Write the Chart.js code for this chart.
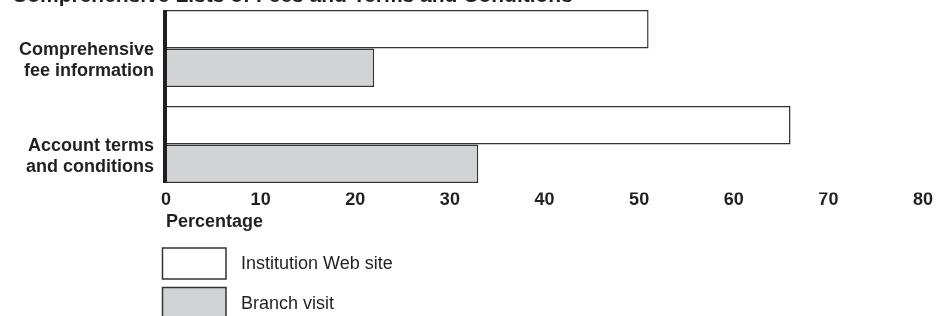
<!DOCTYPE html>
<html><head><meta charset="utf-8">
<script src="https://cdn.jsdelivr.net/npm/chart.js@4/dist/chart.umd.min.js"></script>
<style>html,body{margin:0;padding:0;background:#fff;overflow:hidden}canvas{display:block}</style>
</head><body>
<div style="width:948px;height:316px;position:relative"><canvas id="c"></canvas></div>
<script>
const titleText = "Comprehensive Lists of Fees and Terms and Conditions";
const categories = [["Comprehensive", "fee information"], ["Account terms", "and conditions"]];
const seriesNames = ["Institution Web site", "Branch visit"];
const webSite = [51, 66];
const branchVisit = [22, 33];
const xTicks = [0, 10, 20, 30, 40, 50, 60, 70, 80];
const xAxisLabel = "Percentage";

const FONT = '"Liberation Sans", Arial, Helvetica, sans-serif';
const INK = '#231f20';
Chart.defaults.font.family = FONT;
Chart.defaults.color = INK;

const titlePlugin = {
  id: 'topTitle',
  afterDraw(chart) {
    const ctx = chart.ctx;
    ctx.save();
    ctx.font = 'bold 21px ' + FONT;
    ctx.fillStyle = INK;
    ctx.textAlign = 'left';
    ctx.textBaseline = 'alphabetic';
    ctx.fillText(titleText, 12, 2);
    ctx.restore();
  }
};

const axisLinePlugin = {
  id: 'axisLine',
  afterDatasetsDraw(chart) {
    const first = chart.getDatasetMeta(0).data[0];
    const lastMeta = chart.getDatasetMeta(chart.data.datasets.length - 1);
    const last = lastMeta.data[lastMeta.data.length - 1];
    const top = first.y - first.height / 2;
    const bottom = last.y + last.height / 2;
    const x = chart.scales.x.getPixelForValue(0) - 1;
    const ctx = chart.ctx;
    ctx.save();
    ctx.strokeStyle = INK;
    ctx.lineWidth = 4;
    ctx.beginPath();
    ctx.moveTo(x, top);
    ctx.lineTo(x, bottom);
    ctx.stroke();
    ctx.restore();
  }
};

const legendPlugin = {
  id: 'boxLegend',
  afterDraw(chart) {
    const ctx = chart.ctx;
    ctx.save();
    chart.data.datasets.forEach((ds, i) => {
      const bx = 162.5, by = 248 + i * 39.5, bw = 63.5, bh = 31;
      ctx.fillStyle = ds.backgroundColor;
      ctx.fillRect(bx, by, bw, bh);
      ctx.strokeStyle = ds.borderColor;
      ctx.lineWidth = 1.5;
      ctx.strokeRect(bx, by, bw, bh);
      ctx.fillStyle = INK;
      ctx.font = '18px ' + FONT;
      ctx.textAlign = 'left';
      ctx.textBaseline = 'middle';
      ctx.fillText(ds.label, 241, by + bh / 2 + 1);
    });
    ctx.restore();
  }
};

new Chart(document.getElementById('c'), {
  type: 'bar',
  data: {
    labels: categories,
    datasets: [
      { label: seriesNames[0], data: webSite, backgroundColor: '#ffffff', borderColor: '#333333', borderWidth: 1.5 },
      { label: seriesNames[1], data: branchVisit, backgroundColor: '#d1d3d4', borderColor: '#333333', borderWidth: 1.5 }
    ]
  },
  options: {
    indexAxis: 'y',
    responsive: true,
    maintainAspectRatio: false,
    animation: false,
    layout: { padding: { top: 0.5, bottom: 78.5, left: 0, right: 25 } },
    datasets: { bar: { categoryPercentage: 0.802, barPercentage: 1.0 } },
    plugins: { legend: { display: false }, tooltip: { enabled: false }, title: { display: false } },
    scales: {
      x: {
        type: 'linear',
        min: 0, max: 80,
        afterBuildTicks(scale) { scale.ticks = xTicks.map(v => ({ value: v })); },
        afterFit(scale) { scale.height = 45; scale.paddingLeft = 0; scale.paddingRight = 0; },
        grid: { display: false, drawTicks: false },
        border: { display: false },
        ticks: { color: INK, font: { size: 18, weight: 'bold' }, padding: -3, maxRotation: 0 },
        title: { display: true, text: xAxisLabel, align: 'start', color: INK, font: { size: 18, weight: 'bold' }, padding: { top: 0, bottom: 4.7 } }
      },
      y: {
        afterFit(scale) { scale.width = 166; scale.paddingTop = 0; scale.paddingBottom = 0; },
        grid: { display: false, drawTicks: false },
        border: { display: false },
        ticks: { color: INK, font: { size: 18, weight: 'bold', lineHeight: 1.12 }, padding: 12, labelOffset: 12 }
      }
    }
  },
  plugins: [titlePlugin, axisLinePlugin, legendPlugin]
});
</script>
</body></html>
